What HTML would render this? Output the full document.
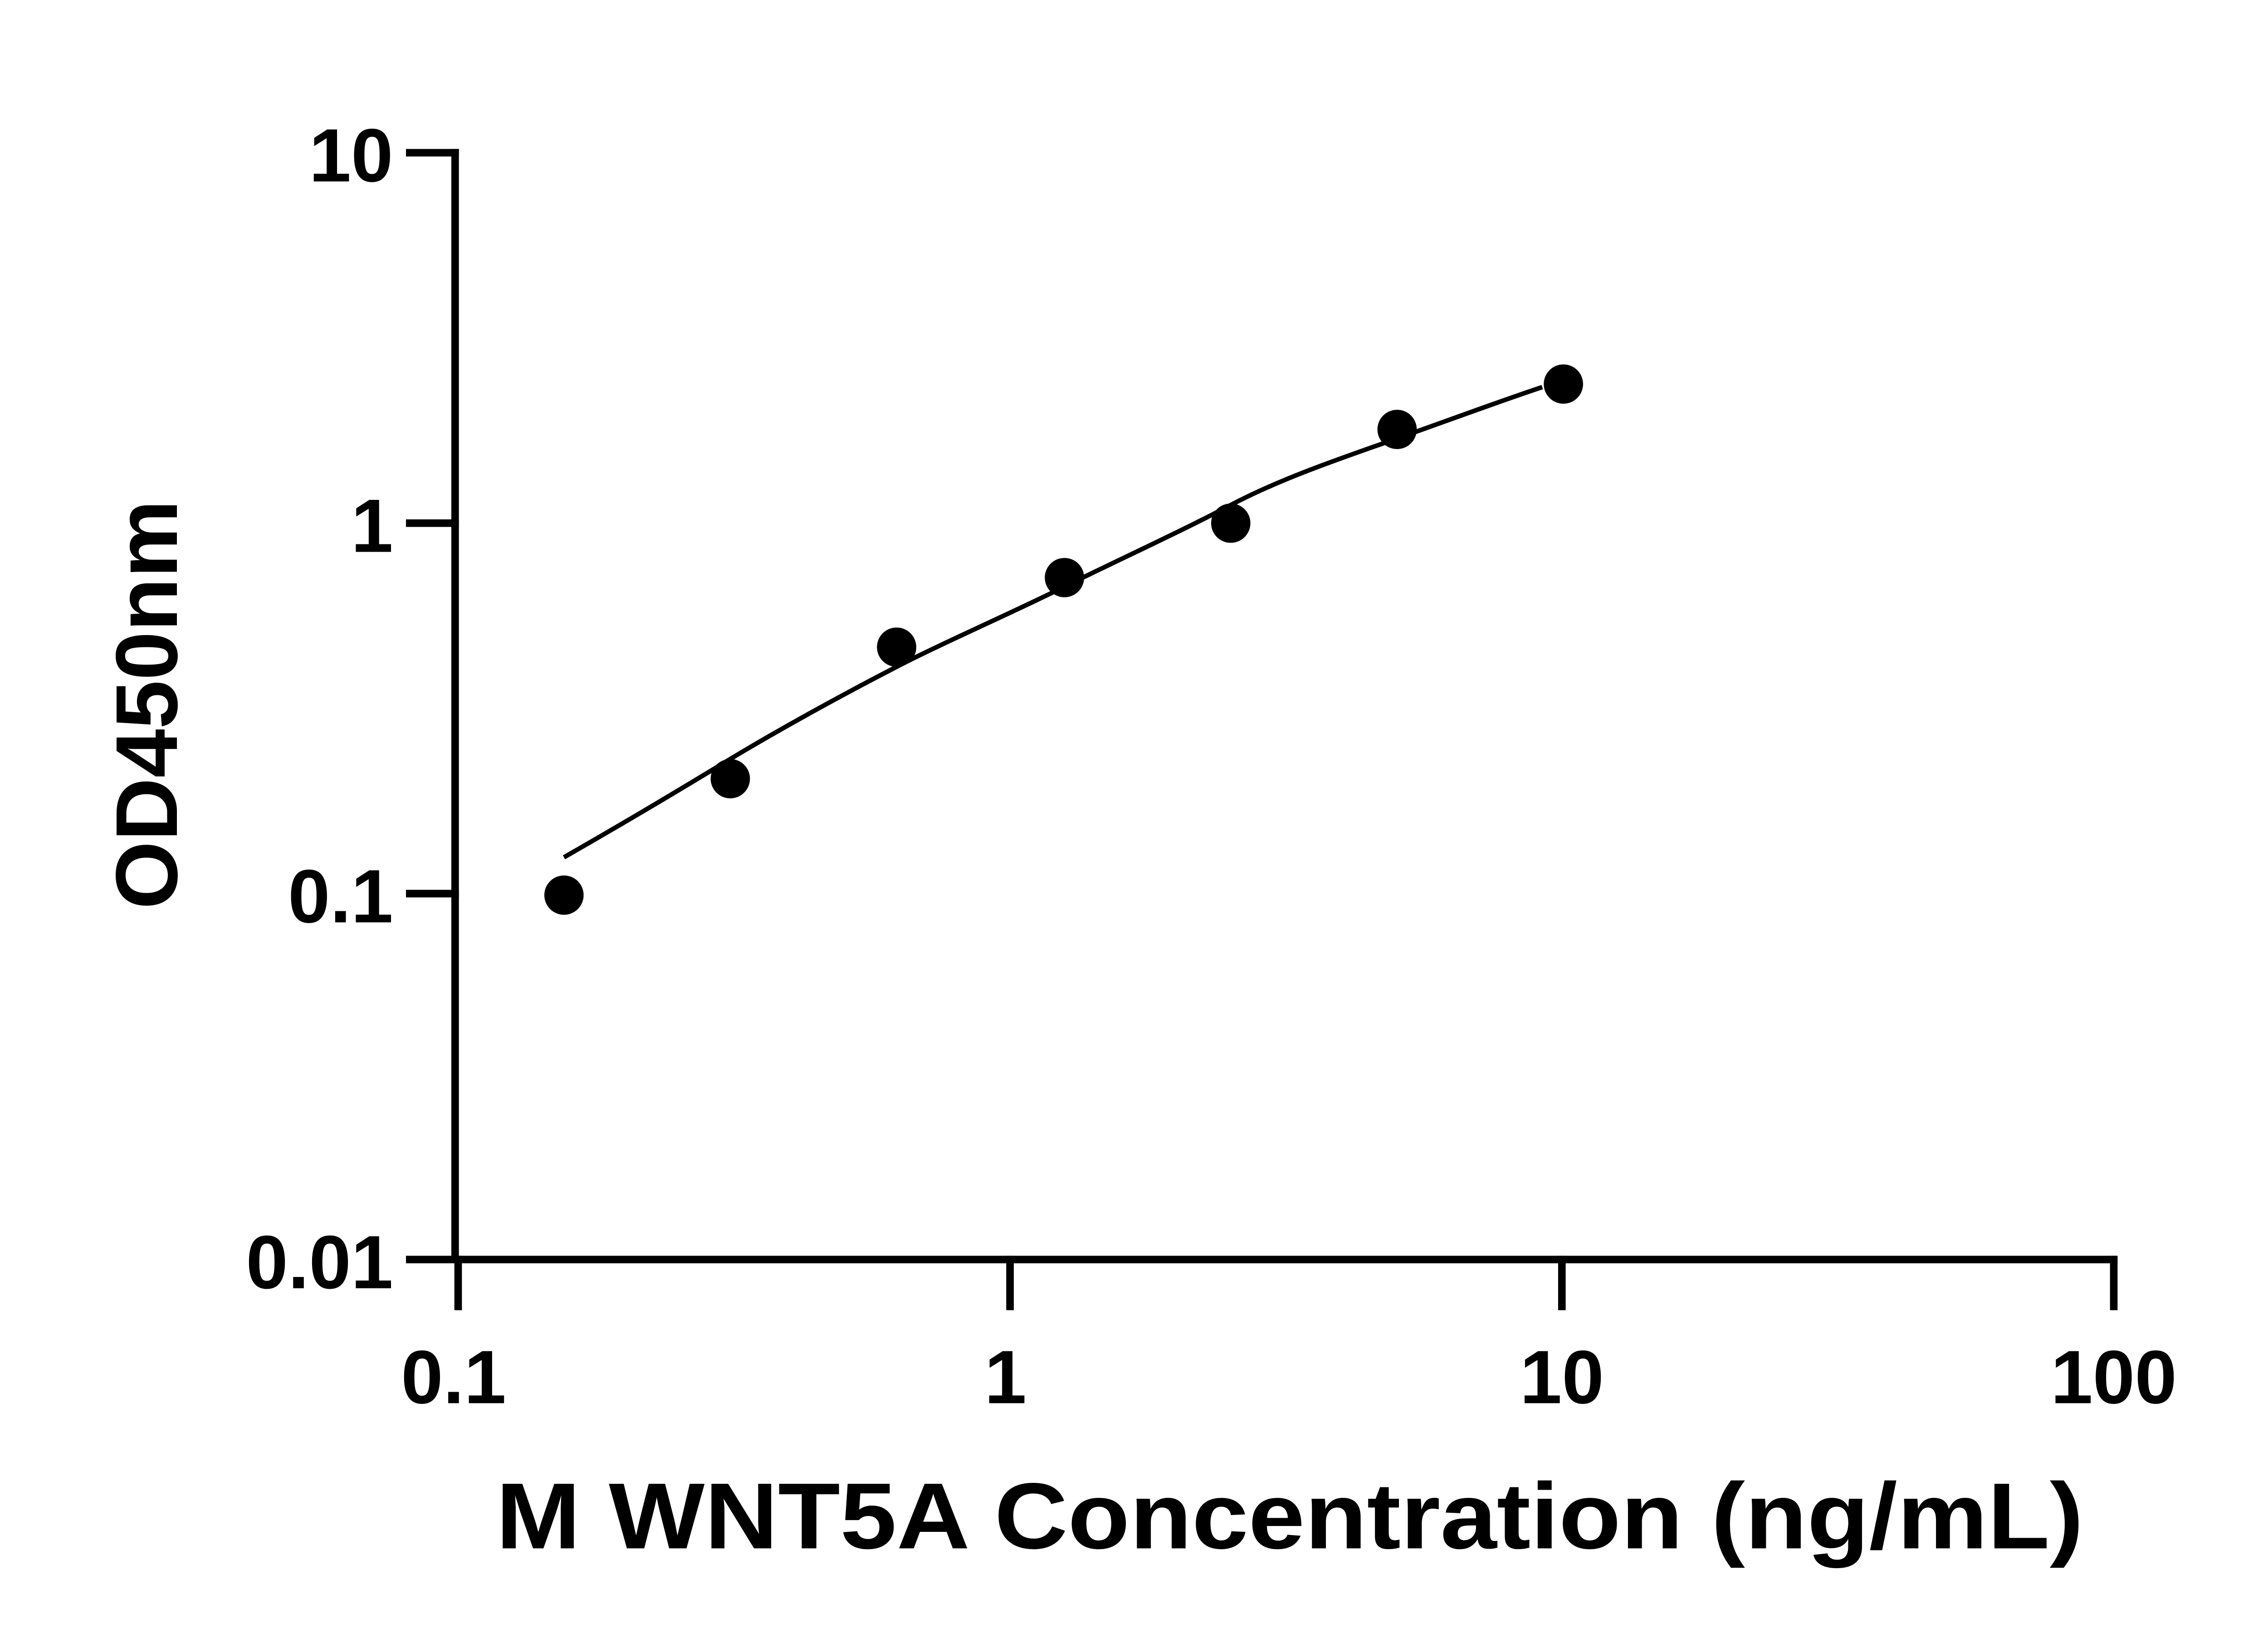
<!DOCTYPE html>
<html><head><meta charset="utf-8"><style>
html,body{margin:0;padding:0;background:#fff;}
svg{display:block;}
text{font-family:"Liberation Sans",sans-serif;font-weight:bold;fill:#000;}
</style></head><body>
<svg width="5142" height="3600" viewBox="0 0 1542.6 1080" preserveAspectRatio="none" xmlns="http://www.w3.org/2000/svg">
<rect width="1542.6" height="1080" fill="#fff"/>
<g stroke="#000" stroke-width="5" fill="none" stroke-linecap="square">
<line x1="301" y1="101" x2="301" y2="833"/>
<line x1="301" y1="833" x2="1398" y2="833"/>
<line x1="271" y1="101" x2="301" y2="101"/>
<line x1="271" y1="346" x2="301" y2="346"/>
<line x1="271" y1="591" x2="301" y2="591"/>
<line x1="271" y1="833" x2="301" y2="833"/>
<line x1="303" y1="833" x2="303" y2="864"/>
<line x1="668" y1="833" x2="668" y2="864"/>
<line x1="1033" y1="833" x2="1033" y2="864"/>
<line x1="1398" y1="833" x2="1398" y2="864"/>
</g>
<path d="M373,567 C420,540 450,522 483,502 S560,458 593,441 S670,405 704,388 S780,352 814,334 S890,302 924,290 S990,266 1020,256" stroke="#000" stroke-width="3" fill="none"/>
<g fill="#000">
<circle cx="373" cy="592" r="13"/>
<circle cx="483" cy="515" r="13"/>
<circle cx="593" cy="428" r="13"/>
<circle cx="704" cy="382" r="13"/>
<circle cx="814" cy="346" r="13"/>
<circle cx="924" cy="284" r="13"/>
<circle cx="1034" cy="254" r="13"/>
</g>
<g font-size="50" text-anchor="end">
<text x="260" y="120">10</text>
<text x="260" y="365">1</text>
<text x="260" y="610">0.1</text>
<text x="260" y="852">0.01</text>
</g>
<g font-size="50" text-anchor="middle">
<text x="300" y="928">0.1</text>
<text x="665" y="928">1</text>
<text x="1033" y="928">10</text>
<text x="1398" y="928">100</text>
</g>
<text x="328" y="1024" font-size="62" textLength="1050" lengthAdjust="spacingAndGlyphs">M WNT5A Concentration (ng/mL)</text>
<text transform="translate(117,466) rotate(-90)" font-size="58" text-anchor="middle">OD450nm</text>
</svg>
</body></html>
